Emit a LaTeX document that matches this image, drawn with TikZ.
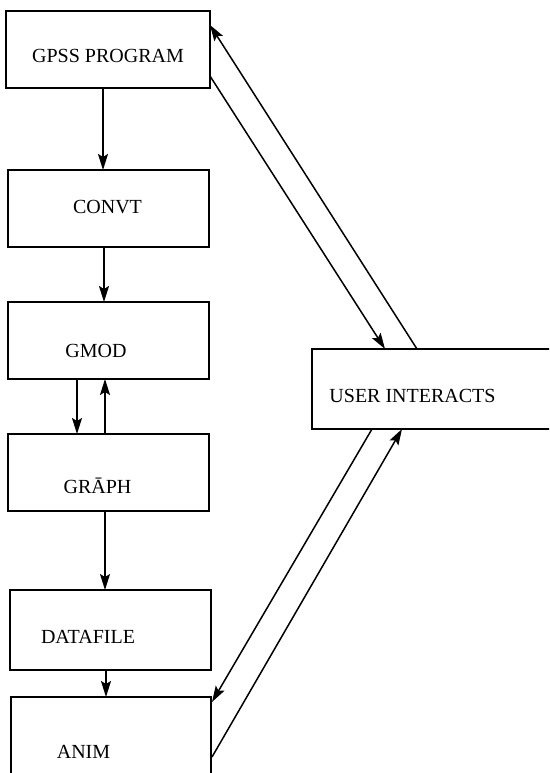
\documentclass[tikz,border=0pt]{standalone}
\usepackage{fontspec}
\setmainfont{Liberation Serif}
\usetikzlibrary{arrows.meta,calc}
\tikzset{myhead/.tip={Stealth[length=16pt,width=10pt,inset=3pt]}}
\begin{document}
\begin{tikzpicture}[x=1pt,y=-1pt,
  box/.style={draw,line width=1.5pt,inner sep=0pt,outer sep=0pt,anchor=north west},
  lbl/.style={font=\fontsize{20}{22}\selectfont,inner sep=0pt,anchor=base},
  conn/.style={line width=1.5pt,-myhead}]
\clip (0,0) rectangle (549,773);
\fill[white] (0,0) rectangle (549,773);
% boxes
\node[box,minimum width=204pt,minimum height=77pt] (gpss) at (6,11) {};
\node[box,minimum width=201pt,minimum height=77pt] (convt) at (8,170) {};
\node[box,minimum width=201pt,minimum height=77pt] (gmod) at (8,302) {};
\node[box,minimum width=201pt,minimum height=77pt] (graph) at (8,434) {};
\node[box,minimum width=201pt,minimum height=80pt] (datafile) at (10,590) {};
\node[box,minimum width=200pt,minimum height=95pt] (anim) at (11,697) {};
\node[box,minimum width=260pt,minimum height=80pt] (user) at (312,349) {};
% labels
\node[lbl] (tgpss) at (108,63) {GPSS PROGRAM};
\node[lbl] (tconvt) at (107.5,213) {CONVT};
\node[lbl] (tgmod) at (96,357) {GMOD};
\node[lbl] (tgraph) at (97.5,493) {GR\={A}PH};
\node[lbl] (tdata) at (88,643) {DATAFILE};
\node[lbl] (tanim) at (83.5,758) {ANIM};
\node[lbl] (tuser) at (412.5,402) {USER INTERACTS};
% vertical connectors
\draw[conn] ($(gpss.south west)+(97,0)$) -- ($(convt.north west)+(95,0)$);
\draw[conn] ($(convt.south west)+(96,0)$) -- ($(gmod.north west)+(96,0)$);
\draw[conn] ($(gmod.south west)+(69,0)$) -- ($(graph.north west)+(69,0)$);
\draw[conn] ($(graph.north west)+(97,0)$) -- ($(gmod.south west)+(97,0)$);
\draw[conn] ($(graph.south west)+(97,0)$) -- ($(datafile.north west)+(95,0)$);
\draw[conn] ($(datafile.south west)+(96,0)$) -- ($(anim.north west)+(95,0)$);
% diagonal connectors
\draw[conn] ($(gpss.north east)+(0,65)$) -- ($(user.north west)+(73,0)$);
\draw[conn] ($(user.north west)+(105,0)$) -- ($(gpss.north east)+(0,14)$);
\draw[conn] ($(user.south west)+(60,0)$) -- ($(anim.north east)+(1,5)$);
\draw[conn] ($(anim.north east)+(1,60)$) -- ($(user.south west)+(90,0)$);
\end{tikzpicture}
\end{document}
